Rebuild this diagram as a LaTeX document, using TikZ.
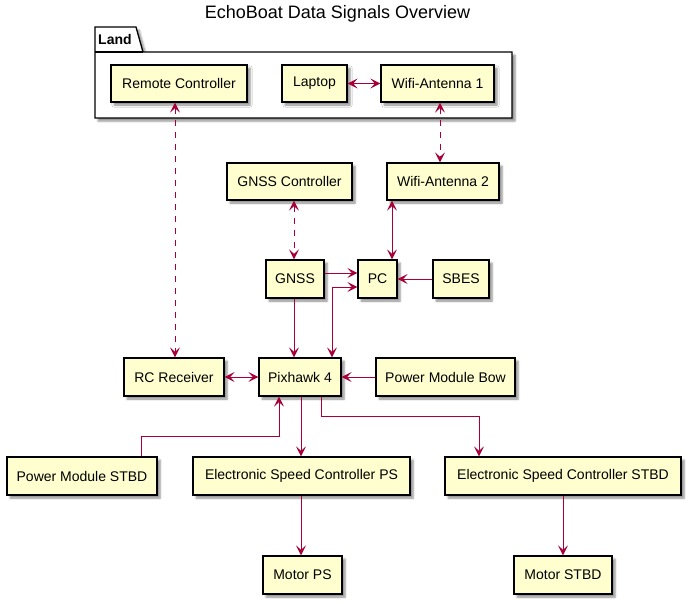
\documentclass[tikz,border=0pt]{standalone}
\usepackage{fontspec}
\setmainfont{Liberation Sans}
\usetikzlibrary{arrows.meta,shadows.blur,calc}
\definecolor{boxfill}{HTML}{FEFECE}
\definecolor{arrowred}{HTML}{A80036}
\tikzset{
  box/.style={draw=black, line width=1.3pt, fill=boxfill, minimum height=37pt,
    inner sep=0pt, font=\fontsize{14}{16}\selectfont,
    blur shadow={shadow xshift=3pt, shadow yshift=-3pt, shadow blur steps=5, shadow opacity=45}},
  conn/.style={draw=arrowred, line width=1pt},
  tip/.style={-{Stealth[length=10pt,width=10pt,inset=4.5pt]}},
  bitip/.style={{Stealth[length=10pt,width=10pt,inset=4.5pt]}-{Stealth[length=10pt,width=10pt,inset=4.5pt]}},
  dsh/.style={dash pattern=on 6pt off 6pt}
}
\begin{document}
\begin{tikzpicture}[x=1pt,y=-1pt]
\useasboundingbox (0,0) rectangle (688,603);
% title
\node (title) at (337.5,14) {\fontsize{18}{20}\selectfont EchoBoat Data Signals Overview};
% Land package
\path[draw=black, line width=1.3pt, fill=white,
  blur shadow={shadow xshift=3pt, shadow yshift=-3pt, shadow blur steps=5, shadow opacity=45}]
  (95,27) -- (136,27) -- (143,52) -- (512,52) -- (512,118) -- (95,118) -- cycle;
\draw[line width=1.3pt] (95,52) -- (143,52);
\node[anchor=west, inner sep=0pt] (land) at (98,39.5) {\fontsize{14}{16}\selectfont\bfseries Land};
% nodes
\node[box, minimum width=136pt] (remote) at (179,83.5) {Remote Controller};
\node[box, minimum width=65pt] (laptop) at (314.5,83.5) {Laptop};
\node[box, minimum width=113pt] (wifi1) at (437.5,83.5) {Wifi-Antenna 1};
\node[box, minimum width=125pt] (gnssctl) at (289.5,181.5) {GNSS Controller};
\node[box, minimum width=112pt] (wifi2) at (443,181.5) {Wifi-Antenna 2};
\node[box, minimum width=58pt, minimum height=38pt] (gnss) at (295,279) {GNSS};
\node[box, minimum width=39pt, minimum height=38pt] (pc) at (377.5,279) {PC};
\node[box, minimum width=56pt, minimum height=38pt] (sbes) at (461,279) {SBES};
\node[box, minimum width=100pt, minimum height=38pt] (rcrx) at (174,377) {RC Receiver};
\node[box, minimum width=82pt, minimum height=38pt] (pix) at (300,377) {Pixhawk 4};
\node[box, minimum width=139pt, minimum height=38pt] (pmbow) at (445.5,377) {Power Module Bow};
\node[box, minimum width=150pt, minimum height=38pt] (pmstbd) at (82,476) {Power Module STBD};
\node[box, minimum width=217pt, minimum height=38pt] (escps) at (301.5,476) {Electronic Speed Controller PS};
\node[box, minimum width=236pt, minimum height=38pt] (escstbd) at (563,476) {Electronic Speed Controller STBD};
\node[box, minimum width=79pt, minimum height=38pt] (motorps) at (302.5,575) {Motor PS};
\node[box, minimum width=98pt, minimum height=38pt] (motorstbd) at (563,575) {Motor STBD};
% connectors
\draw[conn, bitip, dsh] ([xshift=1pt]rcrx.north |- remote.south) -- ([xshift=1pt]rcrx.north);
\draw[conn, bitip] (laptop.east) -- (wifi1.west);
\draw[conn, bitip, dsh] ([xshift=-3pt]wifi2.north |- wifi1.south) -- ([xshift=-3pt]wifi2.north);
\draw[conn, bitip, dsh] ([xshift=-1pt]gnss.north |- gnssctl.south) -- ([xshift=-1pt]gnss.north);
\draw[conn, bitip] ([xshift=14.5pt]pc.north |- wifi2.south) -- ([xshift=14.5pt]pc.north);
\draw[conn, tip] ([yshift=6pt]gnss.east) -- ([yshift=6pt]pc.west);
\draw[conn, tip] (sbes.west) -- (pc.east);
\draw[conn, bitip] ([xshift=32pt]pix.north) |- ([yshift=-8pt]pc.west);
\draw[conn, tip] ([xshift=-1pt]gnss.south) -- ([xshift=-1pt]gnss.south |- pix.north);
\draw[conn, bitip] (rcrx.east) -- (pix.west);
\draw[conn, tip] (pmbow.west) -- (pix.east);
\coordinate (b1) at ([xshift=59pt]pmstbd.north);
\draw[conn, tip] (b1) -- ++(0,-20) -| ([xshift=-21pt]pix.south);
\draw[conn, tip] ([xshift=1pt]pix.south) -- ([xshift=1pt]pix.south |- escps.north);
\coordinate (b2) at ([xshift=21pt]pix.south);
\draw[conn, tip] (b2) -- ++(0,20) -| ([xshift=-84pt]escstbd.north);
\draw[conn, tip] ([xshift=-1.5pt]motorps.north |- escps.south) -- ([xshift=-1.5pt]motorps.north);
\draw[conn, tip] (escstbd.south) -- (motorstbd.north);
\end{tikzpicture}
\end{document}
